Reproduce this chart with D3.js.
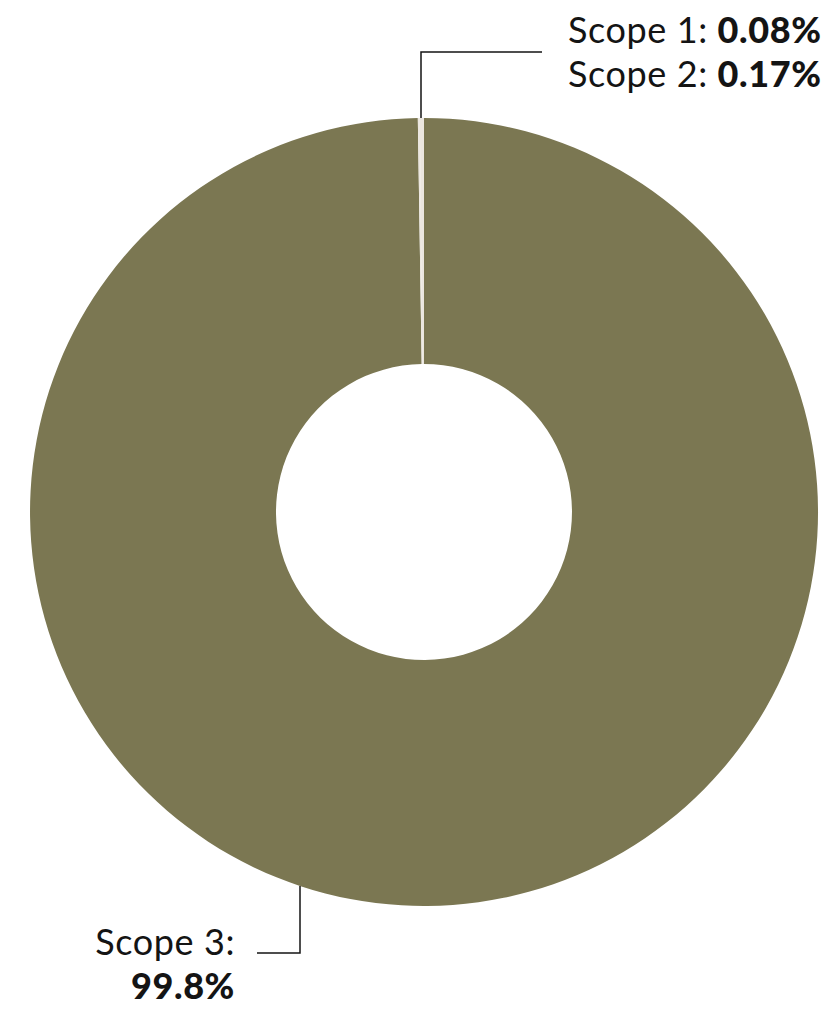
<!DOCTYPE html>
<html>
<head>
<meta charset="utf-8">
<script src="https://cdn.jsdelivr.net/npm/d3@7"></script>
<style>
  html, body { margin: 0; padding: 0; background: #fff; }
  svg { display: block; }
  text { font-family: Lato, "Open Sans", sans-serif; fill: #141414; letter-spacing: 0.6px; }
</style>
</head>
<body>
<svg id="chart" width="831" height="1014"></svg>
<script>
// chart values
var scopes = ['Scope 3', 'Scope 1', 'Scope 2'];
var shares = [99.8, 0.08, 0.17];
var shareLabels = ['99.8%', '0.08%', '0.17%'];
var sliceColors = ['#7b7752', '#ebe6df', '#ebe6df'];

var width = 831, height = 1014;
var cx = 424, cy = 512;
var outerR = 394, innerR = 148;

var svg = d3.select('#chart');

var pie = d3.pie().sort(null).value(function(d) { return d; });
var arc = d3.arc().innerRadius(innerR).outerRadius(outerR);

var g = svg.append('g').attr('transform', 'translate(' + cx + ',' + cy + ')');

g.selectAll('path')
    .data(pie(shares))
    .enter().append('path')
    .attr('d', arc)
    .attr('fill', function(d, i) { return sliceColors[i]; });

// leader lines
var lines = svg.append('g')
    .attr('fill', 'none')
    .attr('stroke', '#141414')
    .attr('stroke-width', 1.5);

// small slices (scope 1 + 2) sit just left of 12 o'clock
lines.append('path')
    .attr('d', 'M421,' + (cy - outerR) + 'V52H542');

// scope 3 line from the lower arc
var lx = 300;
var ly = cy + Math.sqrt(outerR * outerR - (lx - cx) * (lx - cx));
lines.append('path')
    .attr('d', 'M' + lx + ',' + ly + 'V953H257');

// labels
var fontSize = 36;
var topLabel = svg.append('g').attr('font-size', fontSize);
[1, 2].forEach(function(idx, row) {
    var t = topLabel.append('text')
        .attr('x', 568)
        .attr('y', 43 + row * 44);
    t.append('tspan').attr('font-weight', 400).text(scopes[idx] + ': ');
    t.append('tspan').attr('font-weight', 900).text(shareLabels[idx]);
});

var bottomLabel = svg.append('g')
    .attr('font-size', fontSize)
    .attr('text-anchor', 'end');
bottomLabel.append('text')
    .attr('x', 235).attr('y', 955)
    .attr('font-weight', 400)
    .text(scopes[0] + ':');
bottomLabel.append('text')
    .attr('x', 235).attr('y', 999)
    .attr('font-weight', 900)
    .text(shareLabels[0]);
</script>
</body>
</html>
